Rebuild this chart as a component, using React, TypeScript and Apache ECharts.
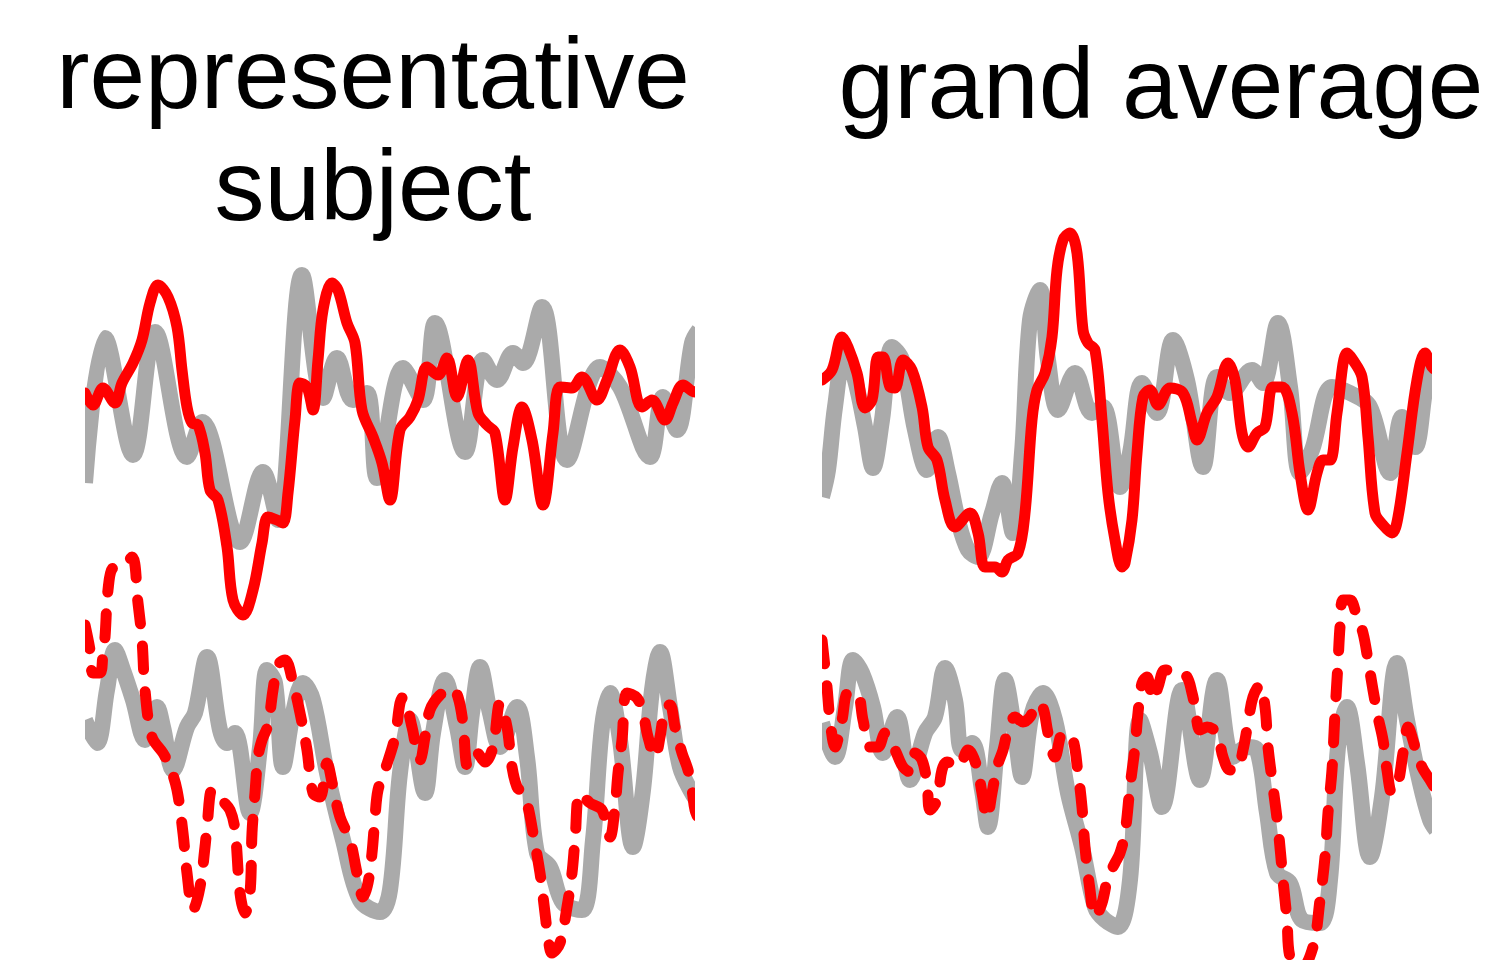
import { useEffect, useRef } from "react";
import * as echarts from "echarts";

// time (ms-like units, 0..610) and amplitude (arbitrary units)
const subjectTemplateTop: [number, number][] = [
  [0, -53], [20, 92], [48, -25], [70, 98], [102, -27], [117, 8], [155, -112], [178, -42], [193, -90],
  [217, 155], [238, 32], [252, 72], [268, 30], [282, 37], [292, -48], [318, 62], [338, 30], [350, 107],
  [380, -22], [398, 70], [412, 50], [428, 77], [438, 67], [457, 123], [482, -30], [515, 63], [535, 43],
  [565, -27], [578, 33], [592, 0], [607, 87], [614, 100],
];
const subjectConditionTop: [number, number][] = [
  [0, 37], [8, 25], [18, 42], [30, 27], [37, 47], [48, 67], [57, 90], [65, 127], [73, 145], [83, 133],
  [92, 103], [97, 60], [102, 23], [107, 7], [113, 5], [120, -23], [125, -60], [133, -70], [142, -117],
  [148, -170], [158, -185], [168, -160], [177, -113], [183, -87], [192, -90], [198, -93], [203, -63],
  [210, 10], [215, 47], [222, 43], [228, 20], [233, 70], [238, 120], [247, 147], [253, 140], [262, 107],
  [270, 87], [277, 20], [288, -7], [297, -33], [305, -70], [315, 0], [325, 13], [333, 30], [342, 63],
  [353, 55], [362, 72], [372, 33], [383, 70], [393, 17], [402, 5], [410, -3], [420, -70], [428, -17],
  [437, 23], [447, -10], [458, -75], [468, -3], [475, 43], [487, 42], [497, 53], [512, 30], [522, 50],
  [535, 80], [545, 63], [557, 23], [567, 30], [580, 10], [588, 27], [598, 45], [610, 38], [614, 40],
];
const subjectTemplateBottom: [number, number][] = [
  [0, 40], [12, 17], [22, 70], [30, 110], [38, 90], [48, 60], [60, 20], [72, 53], [78, 33], [88, -10],
  [102, 33], [110, 47], [122, 103], [135, 30], [142, 17], [150, 27], [165, -53], [175, 13], [182, 90],
  [190, 77], [198, -7], [208, 47], [218, 77], [228, 60], [242, -13], [258, -80], [275, -140], [295, -152],
  [305, -130], [315, -13], [325, 40], [340, -33], [348, 27], [360, 80], [372, 33], [380, -7], [387, 47],
  [395, 93], [405, 47], [415, 13], [432, 53], [442, 3], [452, -93], [465, -107], [478, -143], [497, -150],
  [508, -80], [517, 33], [525, 67], [535, 20], [548, -87], [558, -30], [567, 70], [575, 108], [585, 53],
  [595, -7], [607, -33], [615, -45],
];
const subjectConditionBottom: [number, number][] = [
  [0, 135], [5, 110], [8, 87], [15, 87], [18, 107], [20, 123], [23, 170], [28, 192], [37, 193], [47, 203],
  [53, 157], [57, 120], [60, 70], [67, 23], [78, 7], [85, -7], [92, -30], [98, -73], [102, -113],
  [108, -150], [115, -127], [120, -87], [122, -67], [127, -30], [132, -32], [137, -40], [145, -50],
  [150, -70], [155, -133], [160, -153], [165, -133], [167, -73], [170, -33], [173, 3], [177, 20],
  [183, 35], [188, 70], [193, 95], [200, 100], [208, 77], [215, 47], [222, 10], [228, -33], [235, -37],
  [242, -3], [248, -27], [255, -57], [265, -80], [272, -113], [278, -137], [283, -123], [287, -93],
  [290, -57], [293, -30], [300, -10], [310, 23], [315, 57], [318, 63], [327, 33], [332, 7], [335, 0],
  [340, 23], [345, 50], [355, 65], [367, 72], [373, 63], [378, 37], [383, -7], [392, 7], [400, -2],
  [408, 13], [415, 57], [422, 33], [427, -7], [432, -27], [438, -33], [443, -47], [448, -73], [455, -113],
  [460, -153], [463, -177], [467, -193], [475, -183], [482, -147], [487, -113], [490, -80], [495, -33],
  [505, -43], [517, -50], [525, -77], [530, -47], [533, -13], [537, 20], [542, 67], [552, 62], [558, 47],
  [563, 23], [570, 3], [575, 23], [580, 53], [585, 55], [590, 33], [597, 7], [603, -10], [607, -30],
  [610, -50], [614, -60],
];
const grandTemplateTop: [number, number][] = [
  [0, -67], [6, -40], [13, 23], [23, 77], [33, 50], [43, 3], [51, -38], [60, 10], [70, 83], [80, 70],
  [93, 0], [105, -40], [116, -7], [126, -43], [136, -90], [146, -120], [156, -127], [170, -83], [180, -53],
  [191, -103], [200, -23], [208, 110], [218, 140], [226, 70], [236, 20], [253, 57], [270, 17], [281, 23],
  [298, -57], [308, -23], [320, 47], [335, 17], [351, 90], [365, 50], [381, -37], [395, 53], [408, 37],
  [430, 60], [441, 47], [456, 107], [468, 43], [478, -43], [490, -20], [510, 43], [528, 37], [548, 23],
  [568, -43], [580, 13], [593, -17], [605, 50], [614, 70],
];
const grandConditionTop: [number, number][] = [
  [0, 50], [10, 60], [20, 93], [26, 83], [35, 57], [43, 22], [50, 30], [56, 73], [61, 73], [68, 43],
  [73, 42], [81, 70], [90, 60], [100, 23], [106, -17], [115, -30], [123, -70], [133, -97], [148, -83],
  [156, -103], [163, -137], [173, -137], [180, -142], [186, -130], [196, -123], [203, -83], [210, 10],
  [215, 40], [223, 57], [230, 93], [235, 160], [241, 190], [248, 197], [255, 177], [261, 100], [266, 87],
  [273, 80], [280, 10], [286, -63], [293, -110], [300, -137], [303, -133], [310, -90], [315, -23],
  [321, 33], [328, 40], [336, 25], [348, 42], [361, 37], [370, 7], [375, -10], [385, 17], [395, 33],
  [406, 67], [413, 50], [420, -3], [426, -17], [435, -3], [443, 3], [451, 43], [460, 43], [470, 17],
  [478, -43], [486, -80], [495, -43], [501, -30], [508, -30], [515, 17], [525, 77], [531, 70], [540, 53],
  [546, -7], [553, -83], [561, -95], [570, -103], [576, -87], [585, -23], [595, 50], [603, 77], [610, 63],
  [614, 60],
];
const grandTemplateBottom: [number, number][] = [
  [0, 37], [13, 3], [23, 53], [31, 100], [40, 87], [51, 53], [61, 7], [75, 43], [88, -20], [103, 27],
  [113, 43], [123, 92], [133, 60], [140, 10], [150, 17], [160, -30], [166, -67], [175, 13], [183, 80],
  [193, 27], [200, -17], [210, 47], [221, 67], [233, 40], [246, -33], [260, -87], [273, -147], [283, -160],
  [296, -167], [308, -120], [318, 40], [328, 7], [340, -47], [360, 70], [378, -20], [395, 80], [411, 3],
  [425, 13], [435, 10], [445, -53], [455, -113], [468, -123], [480, -160], [498, -163], [508, -120],
  [516, 13], [525, 53], [535, -3], [548, -97], [560, -37], [575, 97], [585, 40], [598, -23], [608, -60],
  [614, -70],
];
const grandConditionBottom: [number, number][] = [
  [0, 120], [5, 73], [8, 40], [13, 13], [20, 40], [26, 67], [35, 67], [41, 40], [48, 13], [56, 13],
  [63, 27], [73, 10], [81, -7], [88, -12], [93, 7], [100, 0], [105, -23], [108, -50], [115, -40],
  [120, -10], [125, -2], [136, -7], [146, 10], [155, -7], [160, -33], [165, -58], [170, -33], [175, -7],
  [181, 10], [186, 30], [193, 43], [201, 38], [208, 43], [215, 57], [221, 52], [226, 27], [233, 3],
  [241, 27], [250, 23], [256, -13], [260, -47], [263, -87], [268, -130], [273, -157], [280, -143],
  [286, -117], [293, -103], [298, -93], [303, -73], [308, -27], [313, 13], [316, 47], [320, 77], [325, 83],
  [331, 60], [336, 73], [343, 90], [355, 90], [365, 83], [370, 67], [373, 53], [378, 30], [385, 33],
  [395, 27], [401, 3], [408, -10], [415, -10], [421, 10], [426, 37], [431, 63], [438, 75], [443, 53],
  [446, 13], [451, -27], [456, -67], [461, -120], [465, -160], [468, -197], [478, -210], [491, -187],
  [498, -140], [503, -97], [506, -53], [510, -10], [513, 47], [516, 97], [518, 133], [521, 160], [528, 160],
  [535, 143], [541, 127], [546, 100], [551, 70], [556, 43], [561, 20], [565, -10], [570, -33], [576, -23],
  [581, 7], [586, 33], [593, 13], [600, -7], [608, -20], [614, -30],
];

const titleLeftLines = ["representative", "subject"];
const titleRight = "grand average";

const GRAY = "#aaaaaa";
const RED = "#ff0000";
const FONT = "100px 'Liberation Sans', Arial, sans-serif";

export default function App() {
  const ref = useRef<HTMLDivElement>(null);

  useEffect(() => {
    if (!ref.current) return;
    const chart = echarts.init(ref.current, null, { renderer: "svg" });

    const gridDefs = [
      { left: 85, top: 0, width: 610, height: 960 }, // TL
      { left: 85, top: 0, width: 610, height: 960 }, // BL
      { left: 822, top: 0, width: 610, height: 960 }, // TR
      { left: 822, top: 0, width: 610, height: 960 }, // BR
    ];
    const yRanges = [
      [-530, 430],
      [-200, 760],
      [-530, 430],
      [-200, 760],
    ];

    const panels: { template: [number, number][]; cond: [number, number][]; dashed: boolean }[] = [
      { template: subjectTemplateTop, cond: subjectConditionTop, dashed: false },
      { template: subjectTemplateBottom, cond: subjectConditionBottom, dashed: true },
      { template: grandTemplateTop, cond: grandConditionTop, dashed: false },
      { template: grandTemplateBottom, cond: grandConditionBottom, dashed: true },
    ];

    const series: any[] = [];
    panels.forEach((p, i) => {
      series.push({
        type: "line",
        xAxisIndex: i,
        yAxisIndex: i,
        data: p.template,
        smooth: 0.35,
        symbol: "none",
        silent: true,
        z: 2,
        lineStyle: { color: GRAY, width: 16, cap: "butt", join: "round" },
      });
    });
    panels.forEach((p, i) => {
      series.push({
        type: "line",
        xAxisIndex: i,
        yAxisIndex: i,
        data: p.cond,
        smooth: 0.35,
        symbol: "none",
        silent: true,
        z: 3,
        lineStyle: {
          color: RED,
          width: 11,
          type: p.dashed ? [24, 22] : "solid",
          cap: "round",
          join: "round",
        },
      });
    });

    const mask = (x: number, w: number) => ({
      type: "rect",
      z: 100,
      silent: true,
      shape: { x, y: 225, width: w, height: 735 },
      style: { fill: "#ffffff" },
    });

    chart.setOption({
      animation: false,
      backgroundColor: "#ffffff",
      grid: gridDefs,
      xAxis: gridDefs.map((_, i) => ({
        type: "value",
        gridIndex: i,
        min: 0,
        max: 610,
        show: false,
      })),
      yAxis: yRanges.map((r, i) => ({
        type: "value",
        gridIndex: i,
        min: r[0],
        max: r[1],
        show: false,
      })),
      series,
      graphic: [
        mask(0, 85),
        mask(695, 127),
        mask(1432, 64),
        {
          type: "text",
          x: 373,
          y: 73,
          z: 101,
          style: { text: titleLeftLines[0], font: FONT, fill: "#000", align: "center", verticalAlign: "middle" },
        },
        {
          type: "text",
          x: 373,
          y: 185,
          z: 101,
          style: { text: titleLeftLines[1], font: FONT, fill: "#000", align: "center", verticalAlign: "middle" },
        },
        {
          type: "text",
          x: 1161,
          y: 83,
          z: 101,
          style: { text: titleRight, font: FONT, fill: "#000", align: "center", verticalAlign: "middle" },
        },
      ],
    });

    return () => chart.dispose();
  }, []);

  return (
    <div
      ref={ref}
      style={{ position: "fixed", left: 0, top: 0, width: 1496, height: 960, background: "#fff" }}
    />
  );
}
